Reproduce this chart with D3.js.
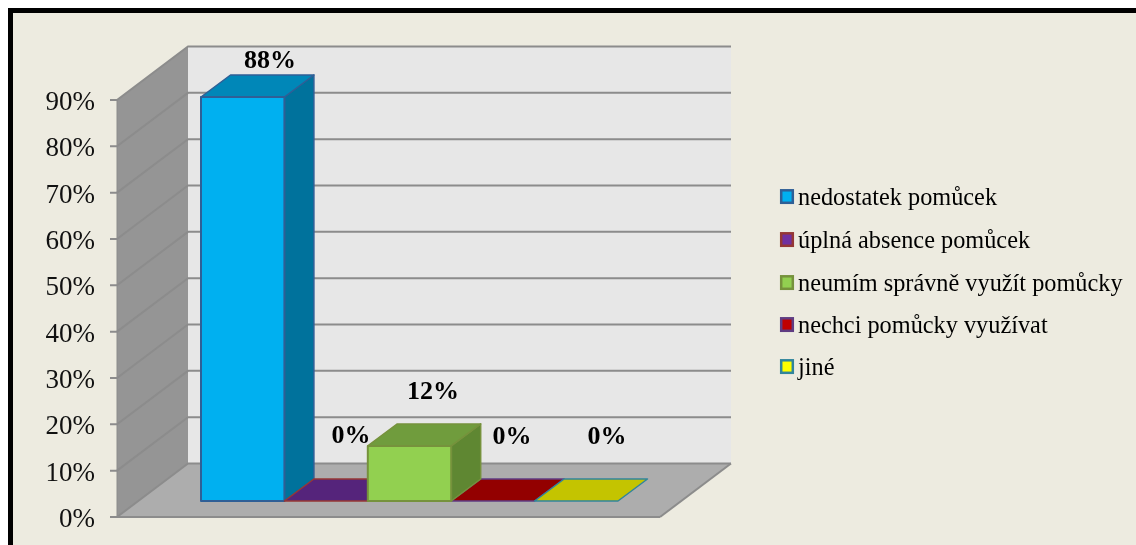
<!DOCTYPE html>
<html><head><meta charset="utf-8">
<script src="https://cdn.jsdelivr.net/npm/d3@7"></script>
<style>html,body{margin:0;padding:0;background:#fff;overflow:hidden}svg{display:block;filter:blur(.6px)}</style>
</head><body><svg id="c" width="1136" height="545"></svg>
<script>
const categories=["nedostatek pomůcek","úplná absence pomůcek","neumím správně využít pomůcky","nechci pomůcky využívat","jiné"];
const values=[88,0,12,0,0];
const labels=["88%","0%","12%","0%","0%"];
const ticks=[0,10,20,30,40,50,60,70,80,90];
const frontColors=["#00b0f0","#7030a0","#92d050","#c00000","#ffff00"];
const sideColors=["#00729c","#4a1f6b","#5f8732","#800000","#a6a600"];
const topColors=["#0087b8","#55247b","#709c3d","#930000","#c4c400"];
const edgeColors=["#2f5f96","#953735","#76923c","#5f3c82","#31859c"];
const labelPos=[[270,59],[351,434],[433,390],[512,435],[607,435]];

const svg=d3.select("#c");
const FONT="'Liberation Serif',serif";
svg.append("rect").attr("x",10.5).attr("y",10.5).attr("width",1150).attr("height",560)
  .attr("fill","#edebe0").attr("stroke","#000").attr("stroke-width",5);

const y=d3.scaleLinear().domain([0,90]).range([517,100]);
const floorL=117, floorR=660, dx=71, dy=-53.5;
const poly=(g,pts,fill,stroke,sw)=>g.append("polygon").attr("points",pts.map(p=>p.join(",")).join(" "))
  .attr("fill",fill).attr("stroke",stroke||"none").attr("stroke-width",sw||1).attr("stroke-linejoin","round");

const g=svg.append("g");
// back wall
poly(g,[[floorL+dx,y(90)+dy],[floorR+dx,y(90)+dy],[floorR+dx,y(0)+dy],[floorL+dx,y(0)+dy]],"#e7e7e7");
// side wall
poly(g,[[floorL,y(90)],[floorL+dx,y(90)+dy],[floorL+dx,y(0)+dy],[floorL,y(0)]],"#959595");
// floor
poly(g,[[floorL,y(0)],[floorR,y(0)],[floorR+dx,y(0)+dy],[floorL+dx,y(0)+dy]],"#adadad");
// gridlines
ticks.forEach(t=>{
  const yy=y(t);
  const pts=[[floorL-7,yy],[floorL,yy],[floorL+dx,yy+dy],[floorR+dx,yy+dy]];
  g.append("polyline").attr("points",pts.map(p=>p.join(",")).join(" "))
    .attr("fill","none").attr("stroke","#8c8c8c").attr("stroke-width",2);
});
g.append("line").attr("x1",floorL).attr("x2",floorR).attr("y1",y(0)).attr("y2",y(0)).attr("stroke","#8c8c8c").attr("stroke-width",2);
g.append("line").attr("x1",floorR).attr("x2",floorR+dx).attr("y1",y(0)).attr("y2",y(0)+dy).attr("stroke","#8c8c8c").attr("stroke-width",2);
g.append("line").attr("x1",floorL).attr("x2",floorL).attr("y1",y(0)).attr("y2",y(90)).attr("stroke","#8c8c8c").attr("stroke-width",1);

// tick labels
ticks.forEach(t=>{
  g.append("text").attr("x",95).attr("y",y(t)+10).attr("text-anchor","end")
   .attr("font-family",FONT).attr("font-size",27).attr("fill","#111").text(t+"%");
});

// bars
const x=d3.scaleBand().domain(categories).range([201,201+83.4*5]).padding(0);
const h=d3.scaleLinear().domain([0,88]).range([501,97]);
const bdx=29.5,bdy=-22;
const order=[0,1,3,4,2];
order.forEach(i=>{
  const c=categories[i],x0=x(c),x1=x0+x.bandwidth(),y0=h(0),y1=h(values[i]);
  const e=edgeColors[i];
  if(values[i]>0){
    poly(g,[[x1,y1],[x1+bdx,y1+bdy],[x1+bdx,y0+bdy],[x1,y0]],sideColors[i],e,1.5);
    poly(g,[[x0,y1],[x1,y1],[x1+bdx,y1+bdy],[x0+bdx,y1+bdy]],topColors[i],e,1.5);
    poly(g,[[x0,y1],[x1,y1],[x1,y0],[x0,y0]],frontColors[i],e,2);
  }else{
    poly(g,[[x0,y0],[x1,y0],[x1+bdx,y0+bdy],[x0+bdx,y0+bdy]],topColors[i],e,1.5);
  }
});

// data labels
labels.forEach((l,i)=>{
  g.append("text").attr("x",labelPos[i][0]).attr("y",labelPos[i][1]+9).attr("text-anchor","middle")
   .attr("font-family",FONT).attr("font-size",26).attr("font-weight","bold").attr("fill","#000").text(l);
});

// legend
const legY=[197,240,283,325,367];
categories.forEach((c,i)=>{
  g.append("rect").attr("x",781.2).attr("y",legY[i]-6.7).attr("width",11.6).attr("height",12.5)
   .attr("fill",frontColors[i]).attr("stroke",edgeColors[i]).attr("stroke-width",2.5);
  g.append("text").attr("x",798).attr("y",legY[i]+8).attr("font-family",FONT).attr("font-size",24.3)
   .attr("fill","#000").text(c);
});
</script></body></html>
